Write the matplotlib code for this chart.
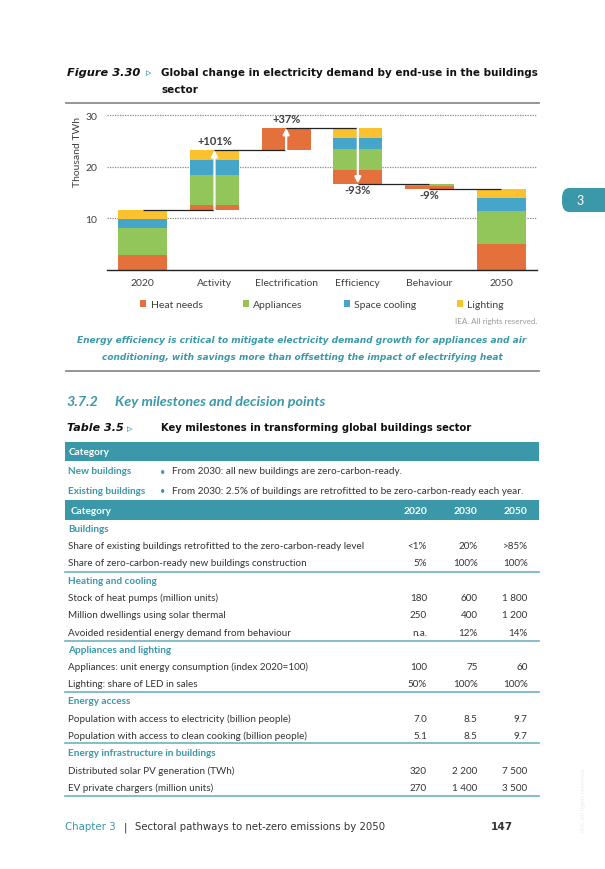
import matplotlib
matplotlib.use("Agg")
import matplotlib.pyplot as plt
from matplotlib.patches import Rectangle, FancyBboxPatch
from matplotlib.lines import Line2D

# ---------------- data ----------------
categories = ['2020', 'Activity', 'Electrification', 'Efficiency', 'Behaviour', '2050']
heat_needs = [2.8, 0.9, 4.3, -2.6, -0.5, 4.9]
appliances = [5.2, 5.8, 0.0, -4.1, -0.5, 6.5]
space_cooling = [1.9, 3.0, 0.0, -2.2, 0.0, 2.5]
lighting = [1.7, 1.9, 0.0, -1.9, 0.0, 1.8]
pct_labels = ['', '+101%', '+37%', '-93%', '-9%', '']
series_names = ['Heat needs', 'Appliances', 'Space cooling', 'Lighting']
y_ticks = [10, 20, 30]

table_years = ['2020', '2030', '2050']
table_sections = ['Buildings', 'Heating and cooling', 'Appliances and lighting',
                  'Energy access', 'Energy infrastructure in buildings']
row_labels = [
    ['Share of existing buildings retrofitted to the zero-carbon-ready level',
     'Share of zero-carbon-ready new buildings construction'],
    ['Stock of heat pumps (million units)',
     'Million dwellings using solar thermal',
     'Avoided residential energy demand from behaviour'],
    ['Appliances: unit energy consumption (index 2020=100)',
     'Lighting: share of LED in sales'],
    ['Population with access to electricity (billion people)',
     'Population with access to clean cooking (billion people)'],
    ['Distributed solar PV generation (TWh)',
     'EV private chargers (million units)'],
]
row_values = [
    [['<1%', '20%', '>85%'], ['5%', '100%', '100%']],
    [['180', '600', '1 800'], ['250', '400', '1 200'], ['n.a.', '12%', '14%']],
    [['100', '75', '60'], ['50%', '100%', '100%']],
    [['7.0', '8.5', '9.7'], ['5.1', '8.5', '9.7']],
    [['320', '2 200', '7 500'], ['270', '1 400', '3 500']],
]
milestone_cats = ['New buildings', 'Existing buildings']
milestone_text = ['From 2030: all new buildings are zero-carbon-ready.',
                  'From 2030: 2.5% of buildings are retrofitted to be zero-carbon-ready each year.']

# ---------------- styles ----------------
W, H = 605, 870
colors = ['#E4703C', '#92C65A', '#46A6C9', '#FBC12F']
TEAL = '#3A98A8'
DARK = '#333333'
FONT = 'Lato'
TFONT = 'DejaVu Sans'

fig = plt.figure(figsize=(W / 100, H / 100), dpi=100)
fig.patch.set_facecolor('white')


def fx(x):
    return x / W


def fy(y):
    return 1 - y / H


def ftext(x, y, s, **kw):
    kw.setdefault('va', 'center')
    kw.setdefault('ha', 'left')
    kw.setdefault('color', DARK)
    return fig.text(fx(x), fy(y), s, **kw)


def hline(x0, x1, y, color, lw):
    fig.add_artist(Line2D([fx(x0), fx(x1)], [fy(y), fy(y)], color=color, lw=lw,
                          transform=fig.transFigure))


def band(x0, x1, y0, y1, color):
    fig.add_artist(Rectangle((fx(x0), fy(y1)), fx(x1) - fx(x0), fy(y0) - fy(y1),
                             facecolor=color, edgecolor='none', transform=fig.transFigure))


# ---------------- figure title ----------------
ftext(67, 73, 'Figure 3.30', family=TFONT, weight='bold', style='italic', fontsize=8.2, color='#111111')
ftext(146, 73.5, '\u25b9', family=TFONT, fontsize=8, color=TEAL, weight='bold')
ftext(161, 73, 'Global change in electricity demand by end-use in the buildings',
      family=TFONT, fontsize=7.5, color='#111111', weight='bold')
ftext(161, 90, 'sector', family=TFONT, fontsize=7.5, color='#111111', weight='bold')
hline(66, 539, 104, '#8c8c8c', 1.3)

# ---------------- chart ----------------
ax = fig.add_axes([fx(107), fy(270.7), fx(537) - fx(107), fy(116) - fy(270.7)])
series = [heat_needs, appliances, space_cooling, lighting]
n = len(categories)
xs = list(range(n))
running = 0.0
for i in range(n):
    vals = [s[i] for s in series]
    delta = sum(vals)
    if i == 0 or i == n - 1:
        start, end, base = 0.0, delta, 0.0
    else:
        start = running
        end = running + delta
        base = min(start, end)
    b = base
    for k, v in enumerate(vals):
        if v == 0:
            continue
        ax.bar(i, abs(v), bottom=b, width=0.68, color=colors[k], zorder=2,
               label=series_names[k] if i == 0 else None)
        b += abs(v)
    if i == 0:
        running = end
    elif i < n - 1:
        if abs(delta) > 2:
            ax.annotate('', xy=(i, end), xytext=(i, start),
                        arrowprops=dict(arrowstyle='-|>', color='white', lw=1.6,
                                        mutation_scale=9, shrinkA=0, shrinkB=0), zorder=4)
        running = end
    if i < n - 1:
        ax.plot([i, i + 1], [running, running], color='#222222', lw=0.9, zorder=3,
                solid_capstyle='butt')

# percentage labels
running = sum(s[0] for s in series)
for i in range(1, n - 1):
    delta = sum(s[i] for s in series)
    new = running + delta
    if delta > 0:
        ax.annotate(pct_labels[i], xy=(i, new), xytext=(0, 3), textcoords='offset points',
                    ha='center', va='bottom', fontsize=8, weight='bold', color='#404040',
                    family=FONT, zorder=5)
    else:
        ax.annotate(pct_labels[i], xy=(i, new), xytext=(0, -0.5), textcoords='offset points',
                    ha='center', va='top', fontsize=8, weight='bold', color='#404040',
                    family=FONT, zorder=5)
    running = new

ax.set_xlim(-0.5, n - 0.5)
ax.set_ylim(0, 30)
ax.set_yticks(y_ticks)
ax.set_yticklabels([str(t) for t in y_ticks], family=FONT, fontsize=7.5, color='#404040')
ax.set_xticks(xs)
ax.set_xticklabels(categories, family=FONT, fontsize=7.5, color='#404040')
ax.tick_params(axis='both', length=0, pad=6)
ax.tick_params(axis='y', pad=7)
for t in y_ticks:
    ax.axhline(t, color='#8a8a8a', lw=0.9, ls=(0, (1, 1)), zorder=1, clip_on=False)
for sp in ['top', 'right', 'left']:
    ax.spines[sp].set_visible(False)
ax.spines['bottom'].set_color('#222222')
ax.spines['bottom'].set_linewidth(1.0)
ax.set_ylabel('Thousand TWh', family=FONT, fontsize=7.5, color='#404040', labelpad=4)
ax.yaxis.set_label_coords(-0.058, 0.77)

leg = ax.legend(loc='upper center', bbox_to_anchor=(0.5, -0.135), ncol=4, frameon=False,
                prop={'family': FONT, 'size': 7.5}, handlelength=0.6, handleheight=0.6,
                columnspacing=3.9, handletextpad=0.4)
for t in leg.get_texts():
    t.set_color('#404040')

ftext(537, 322, 'IEA. All rights reserved.', family=FONT, fontsize=5.8, color='#9a9a9a', ha='right')

# ---------------- caption ----------------
ftext(302, 341, 'Energy efficiency is critical to mitigate electricity demand growth for appliances and air',
      family=TFONT, fontsize=6.5, color=TEAL, weight='bold', style='italic', ha='center')
ftext(302, 357, 'conditioning, with savings more than offsetting the impact of electrifying heat',
      family=TFONT, fontsize=6.5, color=TEAL, weight='bold', style='italic', ha='center')
hline(66, 539, 372, '#8c8c8c', 1.3)

# section heading
ftext(66, 402, '3.7.2', family=FONT, fontsize=10.4, color=TEAL, weight='bold', style='italic')
ftext(115, 402, 'Key milestones and decision points', family=FONT, fontsize=10.4,
      color=TEAL, weight='bold', style='italic')

# table title
ftext(67, 428.5, 'Table 3.5', family=TFONT, weight='bold', style='italic', fontsize=8.0, color='#111111')
ftext(127, 429, '\u25b9', family=TFONT, fontsize=8, color=TEAL, weight='bold')
ftext(161, 428.5, 'Key milestones in transforming global buildings sector',
      family=TFONT, fontsize=7.2, color='#111111', weight='bold')

# ---------------- table ----------------
TX0, TX1 = 65, 539
HFS = 7.2   # heading font size
RFS = 7.1   # row font size
band(TX0, TX1, 443, 462, TEAL)
ftext(69, 452.5, 'Category', family=FONT, fontsize=HFS, color='white', weight='bold')
for j, (c, t) in enumerate(zip(milestone_cats, milestone_text)):
    yy = 472 + j * 19.7
    ftext(68, yy, c, family=FONT, fontsize=HFS, color=TEAL, weight='bold')
    ftext(160, yy, '\u2022', family=FONT, fontsize=6.6, color=TEAL)
    ftext(172, yy, t, family=FONT, fontsize=7.2, color=DARK)

band(TX0, TX1, 501, 521, TEAL)
ftext(71, 511, 'Category', family=FONT, fontsize=HFS, color='white', weight='bold')
col_x = [427, 477.5, 527.5]
for yr, cx in zip(table_years, col_x):
    ftext(cx, 511, yr, family=FONT, fontsize=7.4, color='white', weight='bold', ha='right')

section_y = [529.5, 581.5, 650.5, 702, 754]
line_y = [572.7, 641.7, 693, 744.3, 797.3]
row_step = 17.2
for s, name in enumerate(table_sections):
    sy = section_y[s]
    ftext(68, sy, name, family=FONT, fontsize=HFS, color=TEAL, weight='bold')
    for r, lab in enumerate(row_labels[s]):
        ry = sy + (r + 1) * row_step
        ftext(68, ry, lab, family=FONT, fontsize=RFS, color=DARK)
        for v, cx in zip(row_values[s][r], col_x):
            ftext(cx, ry, v, family=FONT, fontsize=RFS, color=DARK, ha='right')
    hline(TX0, TX1, line_y[s], '#6fb3bd', 1.2)

# ---------------- footer ----------------
ftext(65, 827.5, 'Chapter 3', family=TFONT, fontsize=7.4, color=TEAL)
ftext(124, 827.5, '|', family=TFONT, fontsize=7.4, color=DARK)
ftext(135, 827.5, 'Sectoral pathways to net-zero emissions by 2050', family=TFONT, fontsize=7.3, color=DARK)
ftext(513, 827.5, '147', family=TFONT, fontsize=7.6, color=DARK, weight='bold', ha='right')

# chapter tab
fig.add_artist(FancyBboxPatch((fx(562), fy(213)), fx(620) - fx(562), fy(189) - fy(213),
                              boxstyle='round,pad=0,rounding_size=0.012',
                              facecolor=TEAL, edgecolor='none', transform=fig.transFigure))
ftext(580, 201, '3', family=FONT, fontsize=9, color='white', ha='center')

# faint vertical watermark
fig.text(fx(583), fy(800), 'IEA. All rights reserved.', rotation=90, ha='center', va='center',
         family=FONT, fontsize=4.5, color='#ececec')

fig.savefig('out.png', dpi=100, facecolor='white')
